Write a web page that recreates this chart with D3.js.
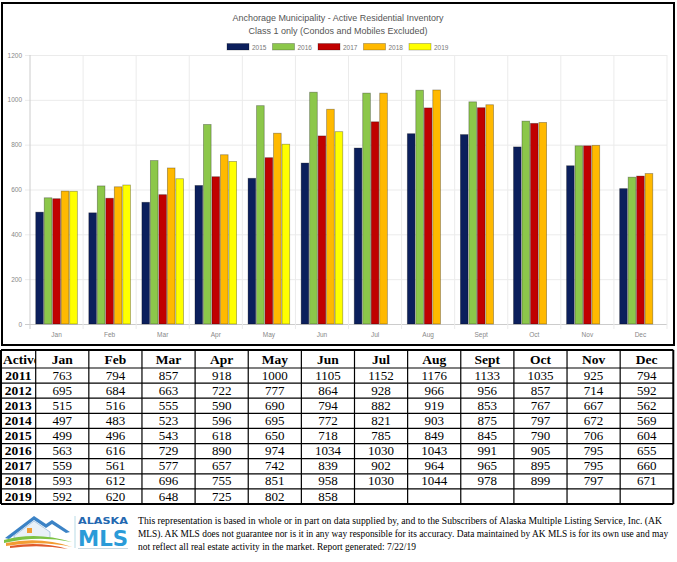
<!DOCTYPE html>
<html>
<head>
<meta charset="utf-8">
<script src="https://cdnjs.cloudflare.com/ajax/libs/d3/7.8.5/d3.min.js"></script>
<style>
body{margin:0;background:#fff;}
svg{display:block;}
</style>
</head>
<body>
<script>
// chart + table data
var MONTHS = ["Jan","Feb","Mar","Apr","May","Jun","Jul","Aug","Sept","Oct","Nov","Dec"];
var YEARS = ["2011","2012","2013","2014","2015","2016","2017","2018","2019"];
var V2011 = [763,794,857,918,1000,1105,1152,1176,1133,1035,925,794];
var V2012 = [695,684,663,722,777,864,928,966,956,857,714,592];
var V2013 = [515,516,555,590,690,794,882,919,853,767,667,562];
var V2014 = [497,483,523,596,695,772,821,903,875,797,672,569];
var V2015 = [499,496,543,618,650,718,785,849,845,790,706,604];
var V2016 = [563,616,729,890,974,1034,1030,1043,991,905,795,655];
var V2017 = [559,561,577,657,742,839,902,964,965,895,795,660];
var V2018 = [593,612,696,755,851,958,1030,1044,978,899,797,671];
var V2019 = [592,620,648,725,802,858,null,null,null,null,null,null];
var CHART_YEARS = ["2015","2016","2017","2018","2019"];
var Y_TICKS = [0,200,400,600,800,1000,1200];
var TITLE = ["Anchorage Municipality - Active Residential Inventory","Class 1 only (Condos and Mobiles Excluded)"];
var FOOTER = [
	"This representation is based in whole or in part on data supplied by, and to the Subscribers of Alaska Multiple Listing Service, Inc. (AK",
	"MLS). AK MLS does not guarantee nor is it in any way responsible for its accuracy. Data maintained by AK MLS is for its own use and may",
	"not reflect all real estate activity in the market. Report generated: 7/22/19"
];

var TABLE = [V2011,V2012,V2013,V2014,V2015,V2016,V2017,V2018,V2019];
var SERIES = [V2015,V2016,V2017,V2018,V2019];
var COLORS = ["#0b1f5c","#8cc74a","#c00000","#ffb900","#ffff00"];

var WIDTH = 677, HEIGHT = 562;
var PLOT = {left:30, right:667, top:55, bottom:324};

var _svg = d3.select("body").append("svg")
	.attr("width",WIDTH)
	.attr("height",HEIGHT);

var createChart = function(){
	_svg.append("rect")
		.attr("x",2).attr("y",3)
		.attr("width",672).attr("height",342)
		.attr("fill","none").attr("stroke","#000").attr("stroke-width",2);

	var xScale = d3.scaleBand().domain(MONTHS).range([PLOT.left,PLOT.right]);
	var yScale = d3.scaleLinear().domain([0,1200]).range([PLOT.bottom,PLOT.top]);
	var group = xScale.bandwidth()*0.8;
	var xSeries = d3.scaleBand().domain(CHART_YEARS).range([0,group]).paddingInner(0.1).paddingOuter(0.05);

	// title
	_svg.selectAll(".title").data(TITLE).enter().append("text")
		.attr("x",338).attr("y",function(d,i){return 21+i*13})
		.attr("text-anchor","middle")
		.attr("textLength",function(d,i){return i==0 ? 211 : 179})
		.attr("lengthAdjust","spacingAndGlyphs")
		.style("font-family","Liberation Sans, Arial, sans-serif")
		.style("font-size","9.5px")
		.attr("fill","#555")
		.text(function(d){return d});

	// legend
	var leg = _svg.append("g").selectAll("g").data(CHART_YEARS).enter().append("g")
		.attr("transform",function(d,i){return "translate("+(227+i*45.5)+",43.5)"});
	leg.append("rect").attr("width",22).attr("height",6.5)
		.attr("fill",function(d,i){return COLORS[i]})
		.attr("stroke","rgba(0,0,0,0.3)").attr("stroke-width",0.8);
	leg.append("text").attr("x",25).attr("y",6)
		.style("font-family","Liberation Sans, Arial, sans-serif")
		.style("font-size","6.5px").attr("fill","#777")
		.text(function(d){return d});

	// grid
	var yAxis = d3.axisLeft(yScale).tickValues(Y_TICKS).tickFormat(d3.format("d"))
		.tickSize(-(PLOT.right-PLOT.left+5)).tickPadding(3);
	var ga = _svg.append("g").attr("transform","translate("+(PLOT.left-5)+",0)").call(yAxis);
	ga.select(".domain").remove();
	ga.selectAll("line").attr("stroke",function(d){return d==0 ? "#ccc" : "#ebebeb"});
	ga.selectAll("text").style("font-family","Liberation Sans, Arial, sans-serif")
		.style("font-size","6.5px").attr("fill","#888");

	var bounds = MONTHS.map(function(m){return xScale(m)}).concat([xScale(MONTHS[11])+xScale.bandwidth()]);
	_svg.append("g").selectAll("line").data(bounds).enter().append("line")
		.attr("x1",function(d){return d}).attr("x2",function(d){return d})
		.attr("y1",PLOT.top).attr("y2",PLOT.bottom+5)
		.attr("stroke",function(d,i){return i==0 ? "#ccc" : "#ebebeb"});

	var xAxis = d3.axisBottom(xScale).tickSize(0).tickPadding(8);
	var gx = _svg.append("g").attr("transform","translate(0,"+PLOT.bottom+")").call(xAxis);
	gx.select(".domain").remove();
	gx.selectAll("text").style("font-family","Liberation Sans, Arial, sans-serif")
		.style("font-size","6.5px").attr("fill","#888");

	// bars
	var off = (xScale.bandwidth()-group)/2;
	var g = _svg.append("g").classed("bars",true);
	SERIES.forEach(function(vals,s){
		g.append("g").selectAll("rect").data(vals).enter()
			.filter(function(d){return d!=null})
			.append("rect")
			.attr("x",function(d,i){return xScale(MONTHS[i])+off+xSeries(CHART_YEARS[s])})
			.attr("y",function(d){return yScale(d)})
			.attr("width",xSeries.bandwidth())
			.attr("height",function(d){return PLOT.bottom-yScale(d)})
			.attr("fill",COLORS[s])
			.attr("stroke","rgba(0,0,0,0.35)").attr("stroke-width",0.8);
	});
};

var createTable = function(){
	var left = 1, first = 35.7, right = 673.3;
	var top = 350, head = 368, bottom = 504;
	var col = d3.scaleBand().domain(MONTHS).range([first,right]);
	var row = d3.scaleBand().domain(YEARS).range([head,bottom]);
	var font = "Liberation Serif, Times New Roman, serif";
	var t = _svg.append("g");

	_svg.append("clipPath").attr("id","c0").append("rect")
		.attr("x",left).attr("y",top).attr("width",first-left).attr("height",head-top);

	t.append("text").attr("x",3).attr("y",head-4).attr("clip-path","url(#c0)")
		.style("font-family",font).style("font-size","13.5px").style("font-weight","bold")
		.text("Active");

	t.selectAll(".hd").data(MONTHS).enter().append("text")
		.attr("x",function(d){return col(d)+col.bandwidth()/2}).attr("y",head-4)
		.attr("text-anchor","middle")
		.style("font-family",font).style("font-size","13.5px").style("font-weight","bold")
		.text(function(d){return d});

	var rows = t.selectAll(".row").data(YEARS).enter().append("g");
	rows.append("text")
		.attr("x",(left+first)/2).attr("y",function(d){return row(d)+row.bandwidth()-3.5})
		.attr("text-anchor","middle")
		.style("font-family",font).style("font-size","13.5px").style("font-weight","bold")
		.text(function(d){return d});
	rows.each(function(yr,r){
		d3.select(this).selectAll("text.v").data(TABLE[r]).enter()
			.filter(function(d){return d!=null})
			.append("text").attr("class","v")
			.attr("x",function(d,i){return col(MONTHS[i])+col.bandwidth()/2})
			.attr("y",row(yr)+row.bandwidth()-3.5)
			.attr("text-anchor","middle")
			.style("font-family",font).style("font-size","13px")
			.text(function(d){return d});
	});

	// cell borders
	var hs = [top,head].concat(YEARS.map(function(y){return row(y)+row.bandwidth()}));
	t.selectAll(".hl").data(hs).enter().append("line")
		.attr("x1",left).attr("x2",right).attr("y1",function(d){return d}).attr("y2",function(d){return d})
		.attr("stroke","#000").attr("stroke-width",function(d,i){return (i==0||i==hs.length-1) ? 2 : 1.2});
	var vs = [left,first].concat(MONTHS.map(function(m){return col(m)+col.bandwidth()}));
	t.selectAll(".vl").data(vs).enter().append("line")
		.attr("y1",top).attr("y2",bottom).attr("x1",function(d){return d}).attr("x2",function(d){return d})
		.attr("stroke","#000").attr("stroke-width",function(d,i){return (i==0||i==vs.length-1) ? 2 : 1.2});
};

var createFooter = function(){
	var lg = _svg.append("g");
	// logo
	lg.append("path").attr("d","M5,538 L34,516 L46,524 L52,520 L70,532 L66,533 L52,524 L46,528 L34,520 L9,539 Z").attr("fill","#3c83c6");
	lg.append("path").attr("d","M14,536 L34,521 L50,532 L50,538 L14,538 Z").attr("fill","#e9f1f8").attr("stroke","#7fa9d2").attr("stroke-width",0.6);
	lg.append("rect").attr("x",27).attr("y",528).attr("width",5).attr("height",5).attr("fill","#f39c34");
	lg.append("path").attr("d","M4,540 Q36,531 72,542 Q38,535 4,543 Z").attr("fill","#7cc243");
	lg.append("path").attr("d","M6,543 Q40,536 72,547 Q40,540 6,546 Z").attr("fill","#f39c34");
	lg.append("path").attr("d","M10,546 Q40,541 68,549 Q40,544 10,548 Z").attr("fill","#e05a2b");
	lg.append("line").attr("x1",75).attr("x2",75).attr("y1",516).attr("y2",548).attr("stroke","#b9dbe6").attr("stroke-width",1);
	lg.append("text").attr("x",78).attr("y",523.5).attr("textLength",50).attr("lengthAdjust","spacingAndGlyphs")
		.style("font-family","DejaVu Sans, sans-serif").style("font-size","9px").style("font-weight","bold")
		.attr("fill","#2468b0").text("ALASKA");
	lg.append("text").attr("x",78).attr("y",546).attr("textLength",50).attr("lengthAdjust","spacingAndGlyphs")
		.style("font-family","DejaVu Sans, sans-serif").style("font-size","21px").style("font-weight","bold")
		.attr("fill","#2a9bd8").text("MLS");
	lg.append("rect").attr("x",78).attr("y",548).attr("width",50).attr("height",1).attr("fill","#c8d8e0");

	// disclaimer lines, squeezed horizontally to the reference widths
	var widths = [525,531,278];
	_svg.selectAll(".foot").data(FOOTER).enter().append("text")
		.attr("x",0).attr("y",0)
		.style("font-family","Liberation Serif, Times New Roman, serif").style("font-size","10.5px")
		.text(function(d){return d})
		.attr("transform",function(d,i){
			var w = this.getComputedTextLength();
			return "translate(138,"+(524+i*13)+") scale("+(widths[i]/w)+",1)";
		});
};

createChart();
createTable();
createFooter();
</script>
</body>
</html>
